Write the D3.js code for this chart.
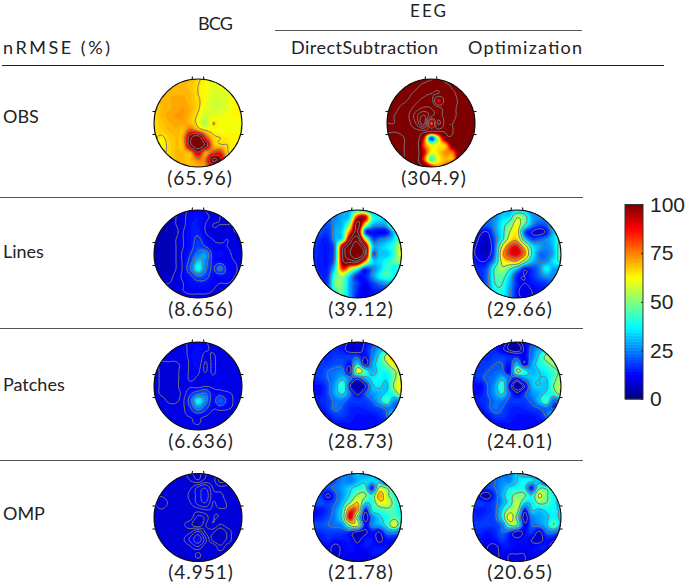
<!DOCTYPE html>
<html><head><meta charset="utf-8">
<script src="https://cdnjs.cloudflare.com/ajax/libs/d3/7.8.5/d3.min.js"></script>
<style>html,body{margin:0;padding:0;background:#fff}svg{display:block}text{font-family:Lato,"Open Sans",sans-serif;fill:#222}</style>
</head><body><div id="c"></div>
<script>
const rowNames=["OBS","Lines","Patches","OMP"];
const colorTicks=[0,25,50,75,100];
const obsBcg=[
[69,69,69,69,69,69,66,63,62,62,63,63,63],
[69,69,69,69,69,68,65,62,60,60,62,63,63],
[69,69,70,70,70,69,65,62,59,59,60,63,65],
[68,69,70,71,71,69,66,62,58,58,60,63,66],
[66,69,70,71,72,70,66,60,58,58,60,63,65],
[66,69,71,72,72,69,64,58,60,60,62,63,63],
[66,68,70,71,71,69,63,54,65,62,62,61,61],
[66,67,69,70,69,80,72,65,63,62,62,62,62],
[66,64,67,69,72,105,118,85,68,65,64,63,63],
[66,63,66,69,70,105,120,105,72,66,65,63,63],
[66,64,66,69,69,72,95,72,80,84,66,63,63],
[66,64,67,69,69,69,76,76,110,100,70,64,63],
[68,68,69,69,69,69,70,74,84,84,72,66,64]];
const obsEeg=[
[110,110,112,112,112,112,115,118,112,110,110,110,110],
[110,110,112,112,114,120,125,125,120,114,112,110,110],
[110,110,112,114,120,128,135,135,122,118,112,110,110],
[110,112,114,118,130,145,150,85,128,120,114,112,110],
[112,114,118,125,150,170,165,145,125,118,114,112,110],
[114,116,120,135,185,230,175,150,125,118,114,112,110],
[116,116,120,130,170,240,74,170,122,116,114,112,110],
[118,118,120,125,130,135,125,125,118,116,114,112,110],
[112,108,114,120,125,92,18,62,108,115,114,112,110],
[112,110,114,120,125,82,60,64,70,108,114,112,110],
[112,110,114,120,125,94,62,66,74,78,112,112,110],
[112,110,114,120,125,84,44,62,70,72,110,112,110],
[112,110,114,120,125,116,90,72,78,105,110,110,110]];
const linesBcg=[
[7,7,7,8,10,12,12,11,9,8,8,8,8],
[7,7,7,8,10,13,14,12,10,8,8,8,8],
[6,6,6,8,10,14,14,11,8,8,8,8,8],
[6,6,6,7,11,14,15,11,9,9,9,8,8],
[6,6,6,8,11,14,17,13,11,10,11,9,9],
[6,6,6,8,11,14,19,16,12,12,11,10,9],
[6,6,6,8,12,16,24,28,14,13,12,10,9],
[6,6,6,8,12,19,33,26,14,13,12,11,9],
[6,6,6,8,12,22,39,24,15,24,13,12,9],
[7,7,7,9,12,15,22,19,13,13,14,11,10],
[8,8,8,9,11,13,14,14,12,11,11,10,10],
[9,9,9,10,11,12,12,12,11,10,10,10,10],
[9,9,9,10,10,10,10,10,10,10,10,10,10]];
const linesDirect=[
[24,24,24,26,30,32,38,32,25,22,22,22,22],
[24,24,24,26,30,36,90,96,44,36,32,38,38],
[24,22,20,28,32,56,115,62,32,28,32,60,66],
[22,20,18,30,36,80,110,22,14,12,14,34,62],
[20,16,16,30,42,110,130,65,22,24,28,36,54],
[18,15,15,28,105,130,145,115,36,32,36,44,60],
[17,15,15,28,110,135,150,125,26,32,32,42,64],
[16,15,15,30,105,115,118,75,36,34,40,46,52],
[17,15,16,38,85,62,42,18,24,32,42,38,38],
[17,16,18,46,52,32,16,15,26,38,44,38,38],
[18,16,20,50,48,28,18,12,18,24,28,32,36],
[17,17,22,44,46,28,16,10,14,16,18,24,24],
[17,17,22,40,44,28,14,12,14,14,16,18,20]];
const linesOpt=[
[20,20,20,24,30,30,34,32,25,22,22,22,22],
[22,22,22,26,34,36,55,48,30,26,26,30,32],
[24,24,22,28,38,48,62,44,28,20,22,38,46],
[22,14,12,26,38,56,62,22,12,8,14,32,48],
[18,10,8,22,40,62,68,36,20,22,26,34,44],
[14,8,6,22,58,82,88,66,38,30,26,32,48],
[13,8,8,24,68,86,90,76,42,24,24,30,50],
[16,12,14,30,60,68,70,50,32,26,26,36,44],
[18,16,22,44,54,44,32,15,18,24,38,28,30],
[20,16,24,44,46,34,16,12,16,22,28,26,32],
[20,16,24,42,42,30,16,12,14,16,18,24,36],
[20,18,24,38,40,28,14,10,12,14,16,20,22],
[20,20,24,36,38,28,14,12,12,14,16,16,18]];
const patchesBcg=[
[10,10,10,10,11,12,12,12,10,10,10,10,10],
[10,10,10,10,11,12,13,12,11,10,10,10,10],
[10,10,10,10,11,12,14,10,12,10,10,10,10],
[10,9,9,9,10,12,13,9,12,10,10,10,10],
[10,9,8.5,9,10,12,12,9,12,10,10,10,10],
[10,9,8.5,9,10,12,11,11,11,11,10,10,10],
[10,9,8.5,9,10,11,10,11,11,11,10,10,10],
[10,9,8.5,9,10,15,20,22,13,13,12,11,10],
[10,10,9,9,11,20,38,26,13,22,14,11,10],
[10,10,10,10,11,16,26,18,12,13,12,11,10],
[10,10,10,10,11,12,13,12,10,10,10,10,10],
[10,10,10,10,10,11,12,10,10,10,10,10,10],
[10,10,10,10,10,10,10,10,10,10,10,10,10]];
const patchesDirect=[
[18,18,18,18,16,10,10,12,18,24,26,26,26],
[18,18,18,16,14,8,8,14,22,30,36,44,48],
[18,18,16,18,18,18,20,12,24,38,58,74,82],
[18,18,18,20,20,14,36,8,28,40,50,64,68],
[18,18,22,24,24,10,62,44,30,38,40,50,60],
[16,18,22,26,32,24,14,28,36,38,36,50,62],
[14,14,20,30,44,12,3,10,32,36,32,54,64],
[14,14,20,30,36,22,10,20,28,30,36,44,60],
[14,16,18,24,24,18,18,18,22,32,44,26,30],
[14,14,18,24,20,16,15,16,18,20,24,24,26],
[12,12,14,18,18,15,14,14,14,16,22,40,22],
[12,12,12,14,14,14,13,13,13,14,15,18,16],
[12,12,12,12,13,13,13,13,13,13,14,14,14]];
const patchesOpt=[
[18,18,18,18,14,6,6,12,18,24,26,26,26],
[18,18,18,16,10,5,3,10,22,30,34,40,44],
[18,18,16,18,18,16,16,12,24,36,52,56,58],
[18,18,18,20,20,14,32,10,28,38,44,52,56],
[18,18,20,22,22,12,50,40,30,34,38,44,50],
[16,18,22,24,32,22,12,26,32,34,34,44,54],
[14,12,20,28,42,12,3,8,30,34,32,48,56],
[14,14,20,28,36,20,10,18,26,30,36,42,54],
[14,16,18,24,24,18,18,18,22,32,44,22,26],
[14,14,18,24,20,16,15,16,18,20,24,18,24],
[12,12,14,18,18,15,14,14,14,16,22,38,22],
[12,12,12,14,14,14,13,13,13,14,15,18,16],
[12,12,12,12,13,13,13,13,13,13,14,14,14]];
const ompBcg=[
[9,9,9,9,9,8,7.5,8.5,9,8,8.5,9,9],
[9,9,9,9,9,8.6,8,9,9,7.6,8,9,9],
[9,9,9,9,9,9.5,11,12,9.6,9,9,9,9],
[8.7,8.7,9,9,9,10,11,13,10,10,9,9,9],
[8.7,8,8.7,9,9,9.6,11,12,9.6,10,9.5,9,9],
[9,8.7,9,9,9,9,9,9.5,9.5,9.5,9.5,9,9],
[9,9,9,9,9,9,7.5,8,9.5,9.5,9,9.5,9],
[9,9,9,9,8.7,8,7,8.5,9.5,8.5,9,9,9],
[9,9,9,9,9,9.5,11,8.5,8,7,8,9,9],
[9,9,9,9.5,9.5,11,13,10,7.5,7,8,9,9],
[9,9,9,8.7,9,9.5,10.5,9,9.5,8,9,8.7,9],
[9,9,9,9,9,9.5,8.3,9.5,9,9,9,9,9],
[9,9,9,9,9,9,9,9,9,9,9,9,9]];
const ompDirect=[
[22,22,22,22,26,26,32,28,28,24,22,22,22],
[20,20,20,20,26,24,30,34,34,32,12,32,28],
[20,20,20,24,28,34,40,42,14,54,50,38,36],
[20,18,8,20,28,38,52,52,40,72,54,42,38],
[20,20,18,22,32,50,66,38,40,60,60,46,36],
[14,14,18,26,40,82,72,14,38,42,46,44,36],
[14,16,20,26,42,92,45,6,24,34,40,46,40],
[20,20,22,24,28,54,58,14,26,30,40,60,38],
[16,16,18,18,18,16,6,8,14,10,24,26,22],
[14,14,16,14,14,14,8,14,14,8,14,14,16],
[12,12,12,8,12,14,12,14,14,14,14,8,14],
[12,12,12,8,12,12,12,10,14,14,14,14,14],
[12,12,12,12,12,12,10,12,12,12,12,12,12]];
const ompOpt=[
[22,22,22,22,24,26,34,30,28,24,22,22,22],
[20,20,20,22,26,26,34,38,36,30,12,28,28],
[18,18,18,22,28,36,38,38,14,44,44,36,30],
[18,10,6,18,30,42,50,48,36,60,48,38,32],
[18,18,16,20,28,40,56,36,36,48,46,38,30],
[16,14,16,20,36,52,52,14,34,32,36,38,32],
[16,16,18,20,38,64,42,6,24,28,32,38,32],
[18,18,18,18,24,48,48,12,22,26,32,46,32],
[16,16,14,16,22,18,6,12,18,8,22,24,18],
[14,14,12,14,18,14,12,14,10,6,14,12,14],
[12,12,10,8,14,14,12,12,12,14,14,6,12],
[10,10,10,8,12,10,10,10,12,12,12,12,12],
[10,10,10,10,10,10,10,10,10,10,10,10,10]];
const contourLevels={
 obsBcg:[65,78,95,108],obsEeg:[116,135,165,195,225],
 linesBcg:[8,11,16,22,30],linesDirect:[25,108,122,136],linesOpt:[12,26,42,56,72,84],
 patchesBcg:[9.3,11.5,16,22,30],patchesDirect:[12,22,34,52],patchesOpt:[9,20,34,48,6],
 ompBcg:[7.8,8.6,9.6,10.6,12],ompDirect:[10,22,36,50,65,80],ompOpt:[10,22,34,46,58]};
const maps=[
 {grid:obsBcg,levels:contourLevels.obsBcg,note:"(65.96)",row:0,cx:198,nx:200},
 {grid:obsEeg,levels:contourLevels.obsEeg,note:"(304.9)",row:0,cx:431,nx:434},
 {grid:linesBcg,levels:contourLevels.linesBcg,note:"(8.656)",row:1,cx:198,nx:201},
 {grid:linesDirect,levels:contourLevels.linesDirect,note:"(39.12)",row:1,cx:357.5,nx:361},
 {grid:linesOpt,levels:contourLevels.linesOpt,note:"(29.66)",row:1,cx:517,nx:520},
 {grid:patchesBcg,levels:contourLevels.patchesBcg,note:"(6.636)",row:2,cx:198,nx:201},
 {grid:patchesDirect,levels:contourLevels.patchesDirect,note:"(28.73)",row:2,cx:357.5,nx:361},
 {grid:patchesOpt,levels:contourLevels.patchesOpt,note:"(24.01)",row:2,cx:517,nx:520},
 {grid:ompBcg,levels:contourLevels.ompBcg,note:"(4.951)",row:3,cx:198,nx:201},
 {grid:ompDirect,levels:contourLevels.ompDirect,note:"(21.78)",row:3,cx:357.5,nx:361},
 {grid:ompOpt,levels:contourLevels.ompOpt,note:"(20.65)",row:3,cx:517,nx:520}];
const rowCy=[123,254,386,517.5], rowLabelY=[123,258,391,520], noteY=[185,316,448,579];
const R=44, UP=5;

const jet=d3.scaleLinear().domain([0,12.5,37.5,62.5,87.5,100])
  .range(["#00007f","#0000ff","#00ffff","#ffff00","#ff0000","#7f0000"]).clamp(true);
const svg=d3.select("#c").append("svg").attr("width",694).attr("height",588);

function cr(a,b,c,d,t){return b+0.5*t*(c-a+t*(2*a-5*b+4*c-d+t*(3*(b-c)+d-a)));}
function resample(g){
  const n=g.length,m=(n-1)*UP+1,out=new Array(m*m);
  const at=(i,j)=>g[Math.max(0,Math.min(n-1,i))][Math.max(0,Math.min(n-1,j))];
  for(let y=0;y<m;y++)for(let x=0;x<m;x++){
    const fy=y/UP,fx=x/UP,i=Math.floor(fy),j=Math.floor(fx),ty=fy-i,tx=fx-j,col=[];
    for(let k=-1;k<=2;k++)col.push(cr(at(i+k,j-1),at(i+k,j),at(i+k,j+1),at(i+k,j+2),tx));
    out[y*m+x]=cr(col[0],col[1],col[2],col[3],ty);
  }
  return {values:out,m};
}
const fillThresholds=d3.range(0,100.01,100/64);
const defs=svg.append("defs");
maps.forEach((d,idx)=>{
  const cy=rowCy[d.row],cx=d.cx;
  const {values,m}=resample(d.grid);
  const sx=d3.scaleLinear().domain([0.5,m-0.5]).range([cx-R,cx+R]);
  const sy=d3.scaleLinear().domain([0.5,m-0.5]).range([cy-R,cy+R]);
  const path=d3.geoPath(d3.geoTransform({point(x,y){this.stream.point(sx(x),sy(y));}}));
  defs.append("clipPath").attr("id","cp"+idx).append("circle").attr("cx",cx).attr("cy",cy).attr("r",R);
  const g=svg.append("g").attr("clip-path",`url(#cp${idx})`);
  g.append("circle").attr("cx",cx).attr("cy",cy).attr("r",R).attr("fill",jet(d3.min(values)));
  const contours=d3.contours().size([m,m]);
  g.selectAll("path.f").data(contours.thresholds(fillThresholds)(values)).join("path")
    .attr("class","f").attr("d",path).attr("fill",c=>jet(c.value+50/64));
  g.selectAll("path.l").data(contours.thresholds(d.levels)(values)).join("path")
    .attr("class","l").attr("d",path).attr("fill","none").attr("stroke","#777").attr("stroke-width",1);
  svg.append("circle").attr("cx",cx).attr("cy",cy).attr("r",R).attr("fill","none").attr("stroke","#111").attr("stroke-width",1.1);
  const tick=(x1,y1,x2,y2)=>svg.append("line").attr("x1",x1).attr("y1",y1).attr("x2",x2).attr("y2",y2).attr("stroke","#111").attr("stroke-width",1.1);
  [-1,1].forEach(s=>{
    tick(cx+s*6,cy-R+0.5,cx+s*5.5,cy-R-2.5);
    tick(cx-R-1.5,cy+s*11.5,cx-R+2,cy+s*11.5);
    tick(cx+R-2,cy+s*11.5,cx+R+1.5,cy+s*11.5);
  });
  svg.append("text").attr("x",d.nx).attr("y",noteY[d.row]).attr("text-anchor","middle").attr("font-size",19)
    .style("letter-spacing","1px").text(d.note);
});

const hText=(t,x,y,w,fs)=>{const e=svg.append("text").attr("x",x).attr("y",y).attr("font-size",fs||18).text(t);if(w)e.attr("textLength",w).attr("lengthAdjust","spacing");};
hText("nRMSE (%)",3,54,107);
hText("BCG",198,30,35);
hText("EEG",410,17,36,17);
hText("DirectSubtraction",291,54,147);
hText("Optimization",468,54,114);
rowNames.forEach((n,i)=>hText(n,3,rowLabelY[i]));
const rule=(x1,x2,y)=>svg.append("line").attr("x1",x1).attr("x2",x2).attr("y1",y).attr("y2",y).attr("stroke","#555").attr("stroke-width",1);
rule(275,582,30.5);
rule(2,664,65.5).attr("stroke","#222");
[197.5,328.5,460.5].forEach(y=>rule(0,583,y));

const barX=625,barW=18;
const cs=d3.scaleLinear().domain([0,100]).range([399,204.5]);
const steps=d3.range(64);
svg.selectAll("rect.b").data(steps).join("rect").attr("class","b")
  .attr("x",barX).attr("width",barW)
  .attr("y",i=>cs((i+1)*100/64)).attr("height",i=>cs(i*100/64)-cs((i+1)*100/64)+0.5)
  .attr("fill",i=>jet((i+0.5)*100/64));
svg.append("rect").attr("x",barX).attr("y",cs(100)).attr("width",barW).attr("height",cs(0)-cs(100)).attr("fill","none").attr("stroke","#333").attr("stroke-width",1);
const ax=svg.append("g").attr("transform",`translate(${barX+barW},0)`)
  .call(d3.axisRight(cs).tickValues(colorTicks).tickSize(-2).tickPadding(7).tickFormat(d3.format("d")));
ax.select(".domain").remove();
ax.selectAll("line").attr("stroke","#222");
ax.selectAll("text").style("font-family","'Liberation Sans Narrow','Liberation Sans',sans-serif").attr("font-size",21).attr("fill","#111");
</script></body></html>
